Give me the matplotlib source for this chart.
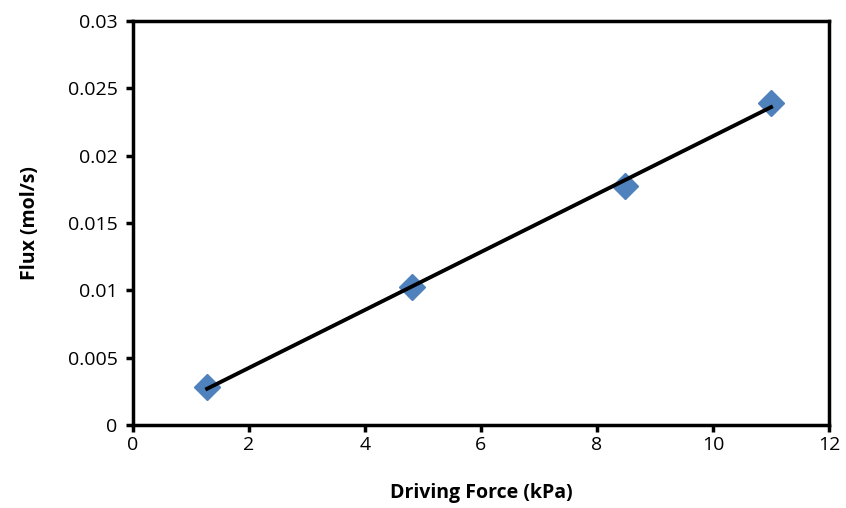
import numpy as np
import matplotlib
matplotlib.use("Agg")
import matplotlib.pyplot as plt

# data
driving_force = [1.28, 4.81, 8.48, 11.0]
flux = [0.00284, 0.01025, 0.01775, 0.02393]

x_ticks = [0, 2, 4, 6, 8, 10, 12]
y_ticks = [0, 0.005, 0.01, 0.015, 0.02, 0.025, 0.03]
y_tick_labels = ["0", "0.005", "0.01", "0.015", "0.02", "0.025", "0.03"]

plt.rcParams['font.family'] = ['Open Sans', 'DejaVu Sans']

fig = plt.figure(figsize=(8.46, 5.08), dpi=100)
ax = fig.add_axes([0.157, 0.163, 0.823, 0.796])

ax.plot(driving_force, flux, linestyle='none', marker='D', markersize=13,
        color='#4F81BD', zorder=2)

# linear trendline
slope, intercept = np.polyfit(driving_force, flux, 1)
fit_x = np.array([driving_force[0], driving_force[-1]])
ax.plot(fit_x, slope * fit_x + intercept, color='black', linewidth=2.8, zorder=3)

ax.set_xlim(0, 12)
ax.set_ylim(0, 0.03)
ax.set_xticks(x_ticks)
ax.set_yticks(y_ticks)
ax.set_yticklabels(y_tick_labels)

for side in ['left', 'right', 'top', 'bottom']:
	ax.spines[side].set_linewidth(2.5)
	ax.spines[side].set_color('black')

ax.tick_params(direction='out', length=5, width=2.5, labelsize=14, colors='black')
ax.tick_params(axis='x', pad=3)
ax.tick_params(axis='y', pad=6)

ax.set_xlabel("Driving Force (kPa)", fontsize=14, fontweight='bold', labelpad=21)
ax.set_ylabel("Flux (mol/s)", fontsize=14, fontweight='bold', labelpad=20)

fig.savefig("out.png", dpi=100)
